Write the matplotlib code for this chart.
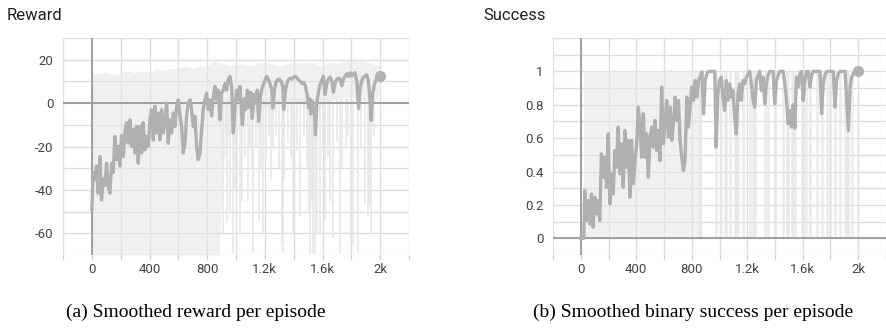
import matplotlib
matplotlib.use("Agg")
import matplotlib.pyplot as plt
from matplotlib.ticker import FixedLocator, MultipleLocator, FuncFormatter

# ---------------- data ----------------
reward_ep = [0, 9, 21, 32, 44, 56, 67, 79, 90, 102, 113, 125, 137, 148, 160, 171, 183, 194, 206, 218,
             229, 241, 252, 264, 275, 287, 299, 310, 322, 333, 345, 356, 368, 380, 391, 403, 414, 426, 438, 449,
             461, 472, 484, 495, 507, 519, 530, 542, 553, 565, 576, 588, 600, 611, 623, 634, 646, 657, 669, 681,
             692, 704, 715, 727, 738, 750, 762, 773, 785, 796, 808, 819, 831, 843, 854, 866, 877, 889, 900, 912,
             924, 935, 947, 958, 970, 981, 993, 1005, 1016, 1028, 1044, 1056, 1067, 1079, 1090, 1102, 1113, 1125, 1137, 1148,
             1157, 1169, 1181, 1192, 1204, 1213, 1225, 1236, 1248, 1255, 1266, 1278, 1289, 1301, 1312, 1324, 1331, 1343, 1354, 1366,
             1377, 1389, 1400, 1412, 1424, 1435, 1447, 1458, 1470, 1481, 1493, 1505, 1512, 1519, 1528, 1537, 1544, 1551, 1560, 1572,
             1583, 1595, 1606, 1618, 1630, 1641, 1653, 1664, 1676, 1688, 1699, 1711, 1722, 1734, 1745, 1757, 1769, 1780, 1792, 1803,
             1815, 1826, 1838, 1850, 1861, 1873, 1884, 1896, 1907, 1919, 1931, 1938, 1947, 1958, 1970, 1981, 1991, 2000]
reward_smooth = [-49, -32, -35, -29, -41.5, -24.6, -44.6, -35, -38, -27.7, -38, -41.5, -27.7, -32, -15.4, -26, -20, -29, -15, -24.6,
                 -13.8, -9, -18.5, -7.7, -20, -12, -23, -10.8, -27.7, -10.8, -23, -9, -21.5, -15.4, -20, -7.7, -3, -17, -1.5, -13.8,
                 -4.6, -17, -3, -13.8, -7.7, 0, -18.5, -7.7, -13.8, -4.6, -10.8, -1.5, 1.5, -6, -10.8, -23, -18.5, -6, 0, 1.5,
                 -3, -10.8, -6, -20, -26, -23, -12, -3, 1.5, 4.6, -3, 1.5, -6, 3, 7.7, 1.5, 6, -7.7, 4.6, 6,
                 9, 6, 10.8, 12.3, 7.7, -13.8, -1.5, 6, 1.5, 7.7, -10, 2, -3, 6, -2, 5, -7, 4, 0, 6,
                 -8.5, 3, 7, 9, 11, 12.3, 10.8, 9, 6, -2.3, 6, 9.5, 10.8, 11, 10, 8, -3, 6, 9.5, 11,
                 11.5, 11, 12, 12.3, 11.5, 10.5, 10, 9, 9.5, 8, 4, -2, 2, -5, 1, -4, -2, -14.6, 0, 5,
                 8.5, 10.5, 12.3, 4, 9, 11, 12, 10.5, 5, 9.5, 11, 11.5, 11, 8, 11, 12.5, 13.5, 12.3, 14, 12.5,
                 13.5, 14, 10, -2.5, 7, 10.5, 12, 12.5, 13, 10, 0, -8, 4, 8, 10.5, 11.5, 12, 12.3]

reward_raw_ep = [0, 50, 100, 150, 200, 250, 300, 350, 400, 450, 500, 550, 600, 650, 700, 750, 800, 850, 885, 905, 950,
                 1000, 1050, 1100, 1150, 1200, 1250, 1300, 1350, 1400, 1450, 1500, 1550, 1600, 1650, 1700, 1750, 1800, 1850, 1900, 1950, 2000]
reward_raw_top = [13, 14, 14, 13, 14, 15, 14, 15, 14, 16, 15, 16, 16, 17, 16, 17, 17, 20, 18, 18, 17,
                  18, 18, 17, 18, 19, 18, 17, 18, 19, 18, 19, 18, 17, 19, 18, 19, 21, 20, 19, 18, 17]
reward_raw_low = [-70, -70, -70, -70, -70, -70, -70, -70, -70, -70, -70, -70, -70, -70, -70, -70, -70, -70, -70, -30, -15,
                  -6, -4, -3, -5, -2, -2, 0, 0, 1, 0, -5, -10, 0, 1, 2, 3, 3, 0, 2, 0, 5]
reward_spike_ep = [912, 935, 958, 981, 993, 1010, 1028, 1044, 1060, 1086, 1100, 1113, 1120, 1140, 1157, 1175, 1190, 1210, 1230,
                   1245, 1255, 1280, 1300, 1317, 1329, 1331, 1360, 1380, 1398, 1420, 1444, 1470, 1490, 1505, 1514, 1525,
                   1537, 1551, 1560, 1583, 1600, 1618, 1640, 1653, 1676, 1700, 1722, 1734, 1760, 1780, 1801, 1815, 1847,
                   1870, 1896, 1919, 1926, 1938, 1960]
reward_spike_low = [-60, -55, -50, -69, -40, -35, -60, -45, -25, -45, -20, -30, -69, -20, -55, -30, -60, -25, -15,
                    -35, -20, -15, -30, -66, -69, -35, -18, -25, -60, -22, -52, -15, -30, -50, -69, -45,
                    -69, -69, -60, -60, -20, -54, -25, -45, -62, -18, -69, -30, -20, -15, -65, -66, -69,
                    -20, -46, -52, -47, -60, -15]

success_ep = [0, 12, 22, 29, 41, 53, 65, 77, 89, 101, 113, 125, 137, 149, 162, 174, 186, 198, 210, 222,
              234, 246, 258, 270, 282, 294, 306, 318, 330, 342, 354, 366, 379, 391, 403, 415, 427, 439, 451, 463,
              475, 487, 499, 511, 523, 535, 547, 559, 571, 583, 596, 608, 620, 632, 644, 656, 668, 680, 692, 704,
              716, 728, 740, 752, 764, 776, 788, 800, 813, 825, 837, 849, 861, 873, 885, 897, 909, 921, 933, 945,
              957, 966, 976, 988, 1000, 1013, 1025, 1037, 1049, 1061, 1073, 1085, 1097, 1109, 1121, 1133, 1145, 1157, 1170, 1182,
              1194, 1206, 1218, 1230, 1242, 1254, 1266, 1278, 1290, 1302, 1314, 1326, 1338, 1350, 1362, 1374, 1386, 1398, 1411, 1423,
              1435, 1447, 1459, 1471, 1483, 1495, 1507, 1519, 1531, 1543, 1555, 1567, 1579, 1591, 1603, 1615, 1627, 1640, 1652, 1664,
              1676, 1688, 1700, 1712, 1724, 1736, 1748, 1760, 1772, 1784, 1796, 1808, 1820, 1832, 1844, 1856, 1869, 1881, 1893, 1905,
              1917, 1929, 1941, 1953, 1965, 1977, 2000]
success_smooth = [0, 0, 0, 0.286, 0.106, 0.226, 0.086, 0.266, 0.066, 0.246, 0.146, 0.226, 0.106, 0.506, 0.366, 0.486, 0.306, 0.626, 0.206, 0.386,
                  0.266, 0.526, 0.426, 0.666, 0.386, 0.566, 0.306, 0.646, 0.426, 0.586, 0.246, 0.586, 0.326, 0.466, 0.566, 0.786, 0.666, 0.486, 0.746, 0.486,
                  0.626, 0.366, 0.586, 0.666, 0.546, 0.706, 0.526, 0.646, 0.466, 0.906, 0.566, 0.706, 0.826, 0.606, 0.786, 0.586, 0.686, 0.846, 0.706, 0.826,
                  0.586, 0.486, 0.406, 0.466, 0.846, 0.666, 0.786, 0.906, 0.826, 0.946, 0.846, 0.946, 0.966, 0.996, 0.746, 0.946, 0.986, 0.998, 1.0, 1.0,
                  1.0, 1.0, 0.546, 0.866, 0.946, 0.966, 0.846, 0.766, 0.946, 0.826, 0.926, 0.846, 0.886, 0.726, 0.626, 0.866, 0.926, 0.826, 0.946, 0.926,
                  0.966, 0.986, 1.0, 0.926, 0.826, 0.786, 0.946, 0.976, 1.0, 0.886, 0.966, 0.806, 0.926, 0.976, 1.0, 1.0, 1.0, 0.806, 0.946, 0.976,
                  1.0, 1.0, 1.0, 0.926, 0.826, 0.686, 0.766, 0.666, 0.8, 0.66, 0.966, 0.906, 0.986, 1.0, 0.826, 0.946, 1.0, 1.0, 0.906, 0.976,
                  1.0, 1.0, 1.0, 1.0, 1.0, 0.746, 0.926, 0.976, 1.0, 1.0, 1.0, 1.0, 1.0, 0.786, 0.946, 0.986, 1.0, 1.0, 1.0, 1.0,
                  0.826, 0.646, 0.906, 0.966, 0.986, 1.0, 1.0]

success_dense_ep = [25, 875]
success_fail_ep = [856, 976, 1012, 1037, 1049, 1073, 1109, 1121, 1133, 1169, 1217, 1241, 1253, 1326, 1350, 1398, 1458, 1483,
                   1494, 1519, 1531, 1543, 1591, 1603, 1627, 1651, 1700, 1736, 1772, 1796, 1832, 1868, 1905, 1917, 1929, 1953]

captions = ["(a) Smoothed reward per episode", "(b) Smoothed binary success per episode"]
titles = ["Reward", "Success"]

# ---------------- style ----------------
W, H = 887, 331
fig = plt.figure(figsize=(W / 100, H / 100), dpi=100)
ax1 = fig.add_axes([63 / W, 1 - 255 / H, (409 - 63) / W, (255 - 38) / H])
ax2 = fig.add_axes([553 / W, 1 - 255 / H, (886 - 553) / W, (255 - 38) / H])

SMOOTH = "#b0b0b0"
RAW = "#e6e6e6"
GRID = "#dedede"
ZERO = "#9a9a9a"
TICKC = "#444444"
FONT = "Roboto"


def kfmt(v, _):
    if v == 0:
        return "0"
    if abs(v) >= 1000:
        return f"{v / 1000:g}k"
    return f"{v:g}"


def style(ax, ylim, ymajor, yminor):
    ax.set_xlim(-200, 2200)
    ax.set_ylim(*ylim)
    for s in ax.spines.values():
        s.set_visible(False)
    ax.xaxis.set_major_locator(FixedLocator([0, 400, 800, 1200, 1600, 2000]))
    ax.xaxis.set_minor_locator(MultipleLocator(200))
    ax.xaxis.set_major_formatter(FuncFormatter(kfmt))
    ax.yaxis.set_major_locator(FixedLocator(ymajor))
    ax.yaxis.set_minor_locator(MultipleLocator(yminor))
    ax.yaxis.set_major_formatter(FuncFormatter(kfmt))
    ax.grid(True, which="both", color=GRID, lw=1.0, zorder=0)
    ax.set_axisbelow(True)
    ax.tick_params(axis="x", which="both", length=3, color="#cfcfcf", width=1, pad=3,
                   labelsize=9.5, labelcolor=TICKC)
    ax.tick_params(axis="y", which="both", length=0, pad=7, labelsize=9.5, labelcolor=TICKC)
    for lab in ax.get_xticklabels() + ax.get_yticklabels():
        lab.set_fontfamily(FONT)
    ax.axhline(0, color=ZERO, lw=1.3, zorder=1.5)
    ax.axvline(0, color=ZERO, lw=1.3, zorder=1.5)


# ---- reward panel ----
style(ax1, (-70, 30), [-60, -40, -20, 0, 20], 10)
ax1.fill_between(reward_raw_ep, reward_raw_low, reward_raw_top, color=RAW, alpha=0.6, lw=0, zorder=1)
ax1.vlines(reward_spike_ep, reward_spike_low, 2, color=RAW, alpha=0.85, lw=1.3, zorder=1)
ax1.plot(reward_ep, reward_smooth, color=SMOOTH, lw=2.4, zorder=3, solid_joinstyle="round")
ax1.plot(reward_ep[-1], reward_smooth[-1], "o", ms=7, color=SMOOTH, zorder=4)

# ---- success panel ----
style(ax2, (-0.1, 1.2), [0, 0.2, 0.4, 0.6, 0.8, 1.0], 0.1)
ax2.fill_between(success_dense_ep, [0, 0], [1, 1], color=RAW, alpha=0.6, lw=0, zorder=1)
ax2.vlines(success_fail_ep, 0, 1, color=RAW, alpha=0.7, lw=2.0, zorder=1)
ax2.plot(success_ep, success_smooth, color=SMOOTH, lw=2.4, zorder=3, solid_joinstyle="round")
ax2.plot(success_ep[-1], success_smooth[-1], "o", ms=7, color=SMOOTH, zorder=4)

# ---- titles and captions ----
fig.text(7 / W, 1 - 15 / H, titles[0], ha="left", va="center", fontsize=12, family=FONT, color="#212121")
fig.text(483 / W, 1 - 15 / H, titles[1], ha="left", va="center", fontsize=12, family=FONT, color="#212121")
fig.text(196 / W, 1 - 312 / H, captions[0], ha="center", va="center", fontsize=14,
         family="Liberation Serif", color="black")
fig.text(693 / W, 1 - 312 / H, captions[1], ha="center", va="center", fontsize=14,
         family="Liberation Serif", color="black")

fig.savefig("out.png", dpi=100)
